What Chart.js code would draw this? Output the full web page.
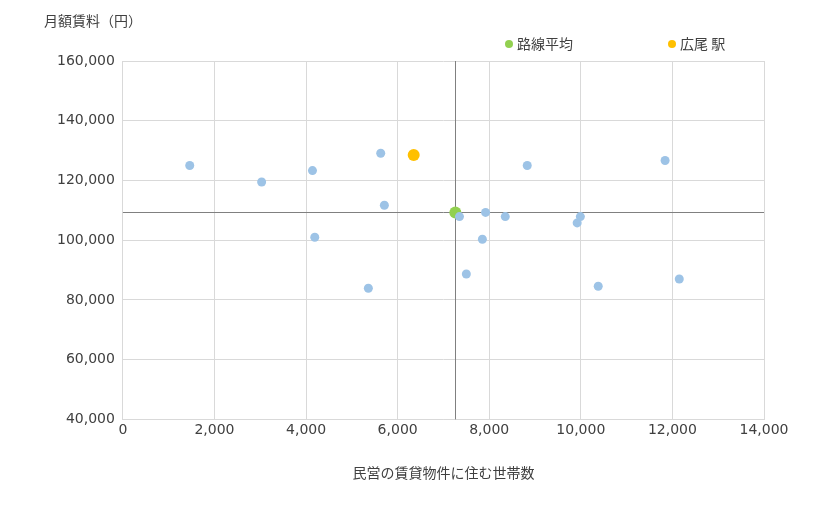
<!DOCTYPE html>
<html><head><meta charset="utf-8">
<script src="https://cdn.jsdelivr.net/npm/chart.js@4"></script>
<style>body{margin:0;background:#fff}#w{position:relative;width:820px;height:510px}
.t{position:absolute;font:14px "Noto Sans CJK JP";color:#404040;line-height:18px}
.d{display:inline-block;width:8px;height:8px;border-radius:50%;margin-right:4px;vertical-align:1px}</style>
</head><body><div id="w"><div class="t" style="left:44px;top:11px">月額賃料（円）</div>
<div class="t" id="l1" style="left:505px;top:34px"></div><div class="t" id="l2" style="left:668px;top:34px"></div>
<canvas id="c" width="820" height="510"></canvas></div>
<script>
const stationX=[1460,3030,4140,4190,5360,5630,5710,7350,7500,7850,7920,8350,8830,9920,9990,10380,11840,12150];
const stationY=[125000,119500,123300,101000,83900,129100,111700,107900,88700,100300,109300,107900,125000,105800,107900,84600,126700,87000];
const avgX=[7260], avgY=[109300];
const targetX=[6350], targetY=[128500];
const labels=['路線平均','広尾 駅'];
const colors=['#9dc3e6','#92d050','#ffc000'];
document.getElementById('l1').innerHTML='<span class="d" style="background:'+colors[1]+'"></span>'+labels[0];
document.getElementById('l2').innerHTML='<span class="d" style="background:'+colors[2]+'"></span>'+labels[1];
const pts=(xs,ys)=>xs.map((x,i)=>({x,y:ys[i]}));
const refLines={id:'ref',beforeDatasetsDraw(ch){const {ctx,chartArea:a,scales:{x,y}}=ch;ctx.save();ctx.strokeStyle='#808080';ctx.lineWidth=1;
const px=Math.round(x.getPixelForValue(avgX[0]))+0.5,py=Math.round(y.getPixelForValue(avgY[0]))+0.5;
ctx.beginPath();ctx.moveTo(px,a.top);ctx.lineTo(px,a.bottom);ctx.moveTo(a.left,py);ctx.lineTo(a.right,py);ctx.stroke();ctx.restore();}};
const F='"Noto Sans CJK JP"';
new Chart(document.getElementById('c'),{type:'scatter',plugins:[refLines],
data:{datasets:[
{label:'',data:pts(stationX,stationY),backgroundColor:colors[0],borderWidth:0,pointRadius:4.5,pointHoverRadius:4.5},
{label:labels[0],data:pts(avgX,avgY),backgroundColor:colors[1],borderWidth:0,pointRadius:6,pointHoverRadius:6},
{label:labels[1],data:pts(targetX,targetY),backgroundColor:colors[2],borderWidth:0,pointRadius:6,pointHoverRadius:6}]},
options:{responsive:false,animation:false,events:[],
layout:{padding:{left:49,right:56,top:61,bottom:25}},
plugins:{tooltip:{enabled:false},legend:{display:false}},
scales:{x:{type:'linear',min:0,max:14000,ticks:{stepSize:2000,color:'#404040',font:{family:'Verdana, DejaVu Sans',size:14},callback:v=>v.toLocaleString('en-US')},
grid:{color:'#d9d9d9',drawTicks:false},border:{color:'#d9d9d9'},
title:{display:true,text:'民営の賃貸物件に住む世帯数',color:'#404040',font:{family:F,size:14},padding:{top:22}}},
y:{min:40000,max:160000,ticks:{stepSize:20000,padding:8,color:'#404040',font:{family:'Verdana, DejaVu Sans',size:14},callback:v=>v.toLocaleString('en-US')},
grid:{color:'#d9d9d9',drawTicks:false},border:{color:'#d9d9d9'}}}}});
</script></body></html>
